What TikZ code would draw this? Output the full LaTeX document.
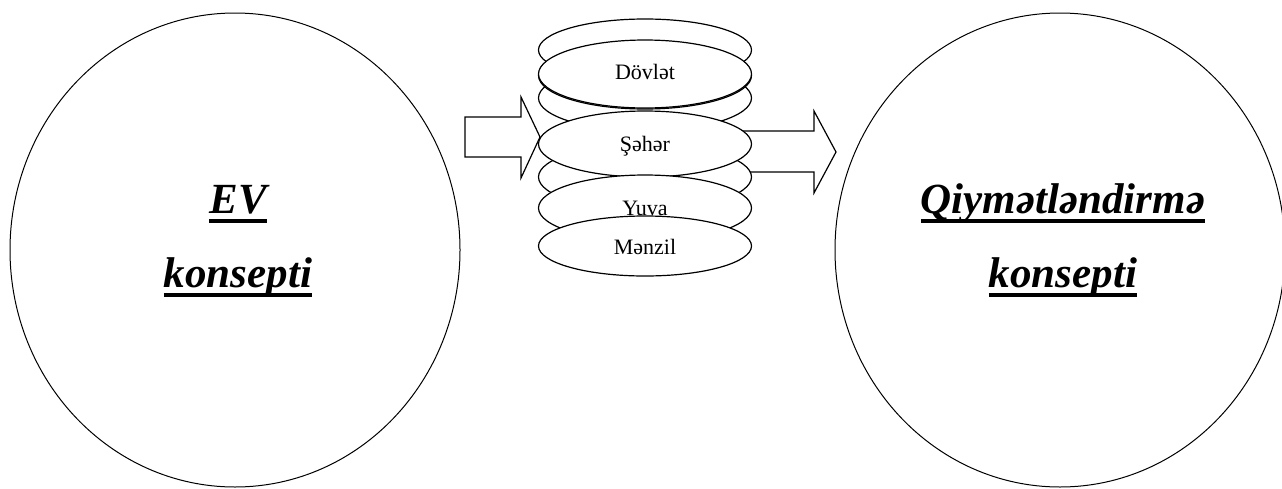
\documentclass[tikz,border=0pt]{standalone}
\usepackage{fontspec}
\setmainfont{Liberation Serif}
\usetikzlibrary{shapes.geometric}
% word-processor style underline: fixed depth below the baseline
\newcommand\wordul[1]{\sbox0{#1}\rlap{\rule[-9.5pt]{\wd0}{4pt}}\usebox0}
\begin{document}
\begin{tikzpicture}[x=1pt,y=-1pt,
  disc/.style={ellipse, draw, fill=white, line width=1.2pt, minimum width=213pt, minimum height=66pt, inner sep=0pt},
  bigcircle/.style={ellipse, draw, line width=1pt, minimum width=450pt, minimum height=474pt, inner sep=0pt},
  lbl/.style={anchor=base, inner sep=0pt, font=\fontsize{22}{26}\selectfont},
  headline/.style={anchor=base, inner sep=0pt, font=\fontsize{43}{50}\selectfont\bfseries\itshape},
  blockarrow/.style={draw, fill=white, line width=1.2pt, line join=miter}]
\useasboundingbox (0,0) rectangle (1282,488);

% the two concept circles
\node[bigcircle] (ev) at (235,250) {};
\node[bigcircle] (qiy) at (1060,250) {};
\node[headline] (evA) at (238,213) {\wordul{EV}};
\node[headline] (evB) at (238,287) {\wordul{konsepti}};
\node[headline] (qA) at (1063,213) {\wordul{Qiymətləndirmə}};
\node[headline] (qB) at (1063,287) {\wordul{konsepti}};

% block arrows (behind the stack)
\draw[blockarrow] (465,117) -- (521,117) -- (521,97) -- (540,137) -- (521,178)
  -- (521,157) -- (465,157) -- cycle;
\draw[blockarrow] (700,131) -- (814,131) -- (814,111) -- (836,152) -- (814,193)
  -- (814,172) -- (700,172) -- cycle;

% stack of levels: blank layers first, labelled layers on top
\node[disc, minimum height=62pt] (d1) at (645,50) {};
\node[disc] (d3) at (645,98) {};
\node[disc] (d5) at (645,177) {};
\node[disc, minimum height=67pt] (d2b) at (645,75.5) {};
\node[disc, minimum height=68pt] (dov) at (645,74) {};
\node[lbl] (tdov) at (645,79) {Dövlət};
\node[disc] (seh) at (645,144) {};
\node[lbl] (tseh) at (645,151) {Şəhər};
\node[disc] (yuv) at (645,208) {};
\node[lbl] (tyuv) at (645,215) {Yuva};
\node[disc, minimum height=60pt] (men) at (645,246) {};
\node[lbl] (tmen) at (645,254) {Mənzil};
\end{tikzpicture}
\end{document}
